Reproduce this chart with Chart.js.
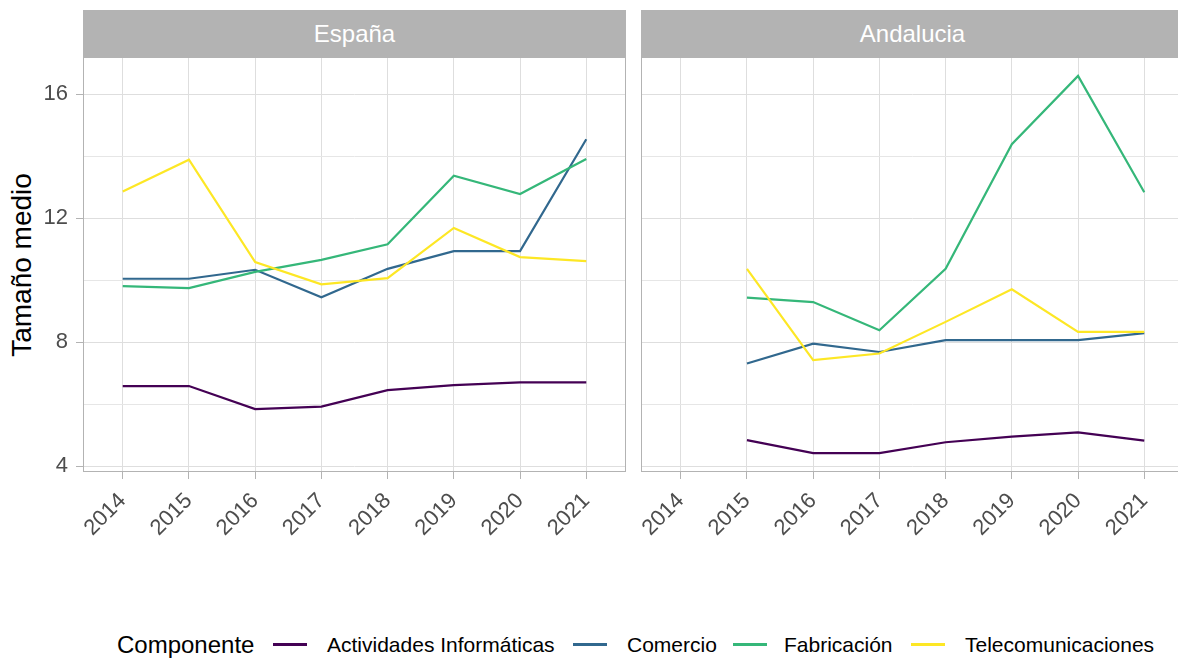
<!DOCTYPE html>
<html>
<head>
<meta charset="utf-8">
<script src="https://cdn.jsdelivr.net/npm/chart.js@4"></script>
<style>
  body { margin:0; width:1178px; height:659px; overflow:hidden; background:#fff; font-family:"Liberation Sans", Arial, sans-serif; position:relative; }
  .strip { position:absolute; top:10px; height:47px; width:543px; background:#B3B3B3; color:#fff; font-size:24px; display:flex; align-items:center; justify-content:center; }
  .wrap { position:absolute; top:57px; width:640px; height:560px; }
  .ytitle { position:absolute; left:22px; top:265px; transform:translate(-50%,-50%) rotate(-90deg); font-size:28px; color:#000; white-space:nowrap; }
  .leg { position:absolute; top:645px; transform:translateY(-50%); white-space:nowrap; color:#000; }
  .key { position:absolute; top:643px; height:3px; width:34px; }
</style>
</head>
<body>
<div class="strip" style="left:83px">España</div>
<div class="strip" style="left:641px">Andalucia</div>
<div class="ytitle">Tamaño medio</div>
<div class="wrap" style="left:0"><canvas id="c1"></canvas></div>
<div class="wrap" style="left:600px"><canvas id="c2"></canvas></div>
<div id="legend"></div>
<script>
// ---- data ----
const years = [2014, 2015, 2016, 2017, 2018, 2019, 2020, 2021];
const yTicks = [4, 6, 8, 10, 12, 14, 16];
const componentes = ['Actividades Informáticas', 'Comercio', 'Fabricación', 'Telecomunicaciones'];
const colores = ['#440154', '#31688E', '#35B779', '#FDE725'];

const espActividades = [6.59, 6.59, 5.85, 5.93, 6.46, 6.62, 6.71, 6.71];
const espComercio    = [10.05, 10.05, 10.34, 9.45, 10.37, 10.94, 10.94, 14.55];
const espFabricacion = [9.81, 9.75, 10.27, 10.66, 11.16, 13.37, 12.78, 13.91];
const espTelecom     = [12.86, 13.89, 10.59, 9.87, 10.07, 11.69, 10.75, 10.62];

const andActividades = [null, 4.85, 4.43, 4.43, 4.78, 4.96, 5.10, 4.83];
const andComercio    = [null, 7.32, 7.96, 7.69, 8.07, 8.07, 8.07, 8.30];
const andFabricacion = [null, 9.44, 9.30, 8.39, 10.37, 14.39, 16.59, 12.84];
const andTelecom     = [null, 10.37, 7.43, 7.64, 8.66, 9.71, 8.34, 8.34];

const FONT = '"Liberation Sans", Arial, sans-serif';

// panel border like ggplot theme_light
const borderPlugin = {
  id: 'panelBorder',
  afterDraw(chart) {
    const a = chart.chartArea, ctx = chart.ctx;
    ctx.save();
    ctx.strokeStyle = '#B3B3B3';
    ctx.lineWidth = 1;
    ctx.strokeRect(Math.round(a.left) + 0.5, Math.round(a.top) + 0.5, Math.round(a.right - a.left) - 1, Math.round(a.bottom - a.top) - 1);
    ctx.restore();
  }
};

function makeDatasets(series) {
  return series.map((arr, i) => ({
    label: componentes[i],
    data: years.map((x, j) => ({ x: x, y: arr[j] })),
    borderColor: colores[i],
    backgroundColor: colores[i],
    borderWidth: 2.2,
    pointRadius: 0,
    tension: 0,
    order: series.length - i
  }));
}

function makePanel(id, series, showY, pad) {
  new Chart(document.getElementById(id), {
    type: 'line',
    data: { datasets: makeDatasets(series) },
    plugins: [borderPlugin],
    options: {
      responsive: true,
      maintainAspectRatio: false,
      animation: false,
      layout: { padding: pad },
      plugins: { legend: { display: false }, tooltip: { enabled: false } },
      scales: {
        x: {
          type: 'linear',
          min: 2013.4,
          max: 2021.6,
          afterBuildTicks: s => { s.ticks = years.map(v => ({ value: v })); },
          afterFit: s => { s.height = 145; s.paddingLeft = 0; s.paddingRight = 0; },
          border: { display: false },
          grid: { color: '#DEDEDE', lineWidth: 1, tickColor: '#B3B3B3', tickLength: 7 },
          ticks: {
            autoSkip: false, minRotation: 45, maxRotation: 45, padding: 9,
            color: '#4D4D4D', font: { family: FONT, size: 22 },
            callback: v => String(v)
          }
        },
        y: {
          min: 3.82,
          max: 17.2,
          afterBuildTicks: s => { s.ticks = yTicks.map(v => ({ value: v })); },
          afterFit: s => { s.width = showY ? 83 : 0; s.paddingTop = 0; s.paddingBottom = 0; },
          border: { display: false },
          grid: {
            color: c => (c.tick && c.tick.value % 4 === 0) ? '#DEDEDE' : '#E6E6E6',
            lineWidth: 1,
            drawTicks: showY,
            tickLength: 7,
            tickColor: c => (c.tick && c.tick.value % 4 === 0) ? '#B3B3B3' : 'rgba(0,0,0,0)'
          },
          ticks: {
            display: showY, padding: 8,
            color: '#4D4D4D', font: { family: FONT, size: 22 },
            callback: v => (v % 4 === 0 ? String(v) : '')
          }
        }
      }
    }
  });
}

makePanel('c1', [espActividades, espComercio, espFabricacion, espTelecom], true, { left: 0, right: 14, top: 0, bottom: 0 });
makePanel('c2', [andActividades, andComercio, andFabricacion, andTelecom], false, { left: 41, right: 56, top: 0, bottom: 0 });

// legend (ggplot style, bottom)
const legend = document.getElementById('legend');
const keyLeft = [273, 573, 733, 911];
const textLeft = [327, 627, 784, 965];
legend.innerHTML = '<div class="leg" style="left:117px;font-size:24px">Componente</div>' +
  componentes.map((c, i) =>
    `<div class="key" style="left:${keyLeft[i]}px;background:${colores[i]}"></div>` +
    `<div class="leg" style="left:${textLeft[i]}px;font-size:21px">${c}</div>`
  ).join('');
</script>
</body>
</html>
